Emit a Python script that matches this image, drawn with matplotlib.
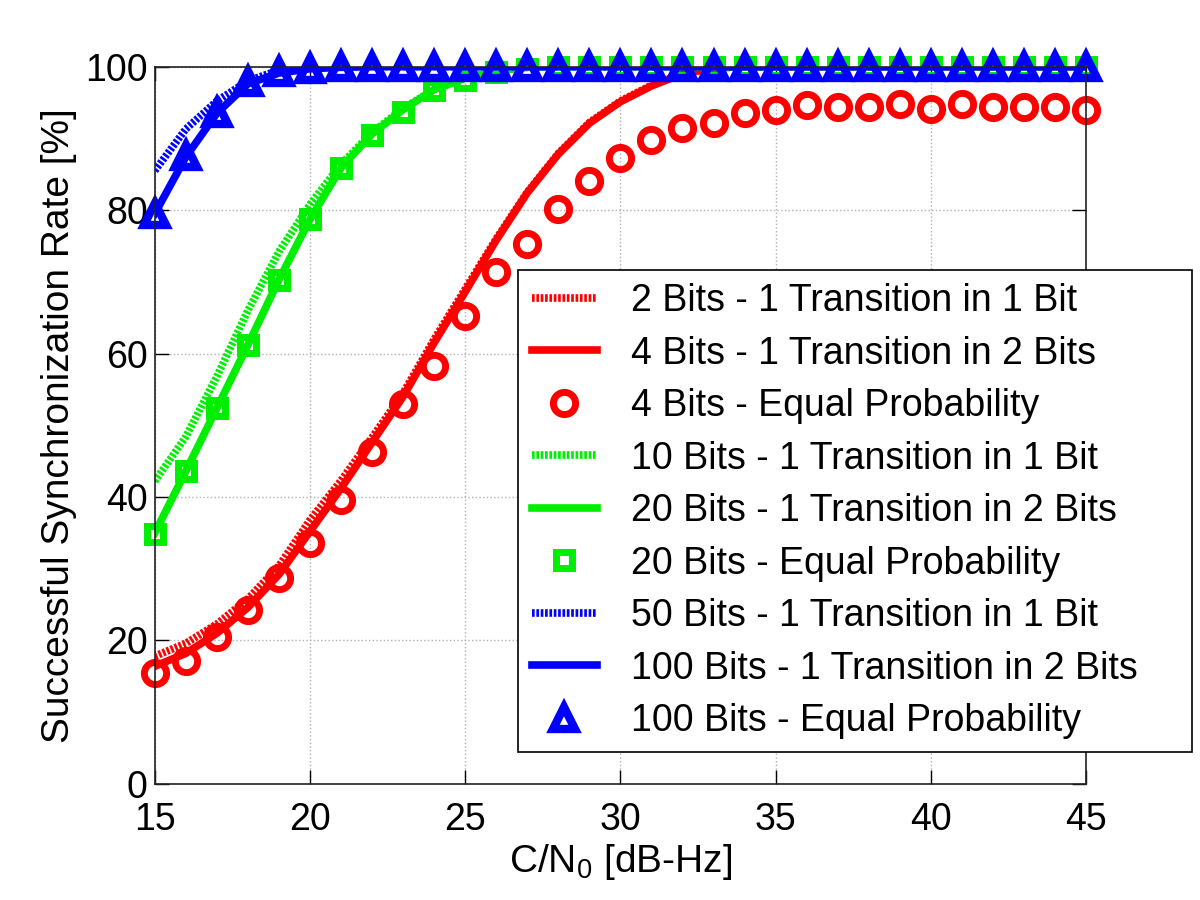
import numpy as np
import matplotlib
matplotlib.use("Agg")
import matplotlib.pyplot as plt

plt.rcParams['font.family'] = ['Liberation Sans', 'DejaVu Sans']
plt.rcParams['mathtext.default'] = 'regular'

# C/N0 axis
cn0 = [15, 16, 17, 18, 19, 20, 21, 22, 23, 24, 25, 26, 27, 28, 29, 30,
       31, 32, 33, 34, 35, 36, 37, 38, 39, 40, 41, 42, 43, 44, 45]

# red: 2 / 4 bits
red_2b_1in1 = [17.8, 19.6, 22.3, 25.8, 30.4, 36.8, 42.3, 48.3, 54.5, 62.0, 69.0, 76.0, 82.5, 87.9,
               92.2, 95.2, 97.4, 99.0, 99.8, 100, 100, 100, 100, 100, 100, 100, 100, 100, 100, 100, 100]
red_4b_1in2 = [16.4, 18.2, 21.0, 24.6, 29.2, 35.2, 41.2, 47.6, 54.0, 61.5, 68.6, 75.8, 82.4, 87.8,
               92.1, 95.1, 97.3, 99.0, 99.8, 100, 100, 100, 100, 100, 100, 100, 100, 100, 100, 100, 100]
red_4b_eq = [15.5, 17.2, 20.5, 24.3, 28.7, 33.6, 39.6, 46.3, 52.9, 58.2, 65.3, 71.4, 75.2, 80.1,
             84.0, 87.3, 89.8, 91.5, 92.1, 93.6, 94.0, 94.7, 94.4, 94.4, 94.8, 94.1, 94.8, 94.4,
             94.4, 94.4, 94.0]

# green: 10 / 20 bits
grn_10b_1in1 = [42.2, 48.4, 56.8, 66.0, 74.2, 80.8, 86.4, 90.8, 94.2, 96.8, 98.4, 99.4, 99.9, 100,
                100, 100, 100, 100, 100, 100, 100, 100, 100, 100, 100, 100, 100, 100, 100, 100, 100]
grn_20b_1in2 = [35.0, 43.6, 52.4, 61.2, 70.3, 78.7, 85.9, 90.6, 94.0, 96.8, 98.4, 99.4, 99.9, 100,
                100, 100, 100, 100, 100, 100, 100, 100, 100, 100, 100, 100, 100, 100, 100, 100, 100]
grn_20b_eq = [34.8, 43.6, 52.4, 61.2, 70.3, 78.7, 85.9, 90.4, 93.7, 96.8, 98.2, 99.3, 99.7, 99.9,
              100, 100, 100, 100, 100, 100, 100, 100, 100, 100, 100, 100, 100, 100, 100, 100, 100]

# blue: 50 / 100 bits
blu_50b_1in1 = [85.5, 91.3, 95.2, 98.0, 99.5, 99.9, 100, 100, 100, 100, 100, 100, 100, 100,
                100, 100, 100, 100, 100, 100, 100, 100, 100, 100, 100, 100, 100, 100, 100, 100, 100]
blu_100b_1in2 = [79.5, 87.4, 93.5, 97.6, 99.1, 99.7, 99.9, 100, 100, 100, 100, 100, 100, 100,
                 100, 100, 100, 100, 100, 100, 100, 100, 100, 100, 100, 100, 100, 100, 100, 100, 100]
blu_100b_eq = [79.4, 87.5, 93.6, 97.8, 99.2, 99.7, 99.9, 100, 100, 100, 100, 100, 100, 100,
               100, 100, 100, 100, 100, 100, 100, 100, 100, 100, 100, 100, 100, 100, 100, 100, 100]

labels = ["2 Bits - 1 Transition in 1 Bit",
          "4 Bits - 1 Transition in 2 Bits",
          "4 Bits - Equal Probability",
          "10 Bits - 1 Transition in 1 Bit",
          "20 Bits - 1 Transition in 2 Bits",
          "20 Bits - Equal Probability",
          "50 Bits - 1 Transition in 1 Bit",
          "100 Bits - 1 Transition in 2 Bits",
          "100 Bits - Equal Probability"]

RED = '#ff0000'
GRN = '#00ee00'
BLU = '#0000ff'
lw = 5.5
dots = (0, (0.35, 0.22))

fig = plt.figure(figsize=(12, 9), dpi=100)
ax = fig.add_axes([0.129, 0.129, 0.776, 0.797])

groups = [(RED, red_2b_1in1, red_4b_1in2, red_4b_eq, 'o', 16, 5),
          (GRN, grn_10b_1in1, grn_20b_1in2, grn_20b_eq, 's', 11.5, 5),
          (BLU, blu_50b_1in1, blu_100b_1in2, blu_100b_eq, '^', 16, 6)]
handles = []
for col, dotted, solid, eq, mk, ms, mew in groups:
    h1, = ax.plot(cn0, dotted, color=col, lw=lw, ls=dots)
    h2, = ax.plot(cn0, solid, color=col, lw=lw, ls='-')
    h3, = ax.plot(cn0, eq, ls='none', marker=mk, ms=ms, mew=mew, mec=col,
                  mfc='none', clip_on=False)
    handles += [h1, h2, h3]

ax.set_xlim(15, 45)
ax.set_ylim(0, 100)
ax.set_xticks([15, 20, 25, 30, 35, 40, 45])
ax.set_yticks([0, 20, 40, 60, 80, 100])
ax.grid(True, ls=':', color='#b0b0b0', lw=1)
ax.tick_params(direction='in', length=10, width=1, top=True, right=True,
               labelsize=27)
ax.tick_params(axis='x', pad=13)
ax.tick_params(axis='y', pad=5)
for s in ax.spines.values():
    s.set_linewidth(1.2)
    s.set_color('#222222')
ax.set_xlabel('C/N$_0$ [dB-Hz]', fontsize=28, labelpad=3)
ax.set_ylabel('Successful Synchronization Rate [%]', fontsize=28, labelpad=6)

leg = ax.legend(handles, labels, loc='upper left',
                bbox_to_anchor=(0.432, 0.161, 0.561, 0.539), mode='expand',
                bbox_transform=fig.transFigure, fontsize=27, frameon=True,
                fancybox=False, edgecolor='black', framealpha=1,
                handlelength=1.75, handletextpad=0.9, labelspacing=0.44,
                borderpad=0.35, borderaxespad=0)
leg.get_frame().set_linewidth(1.2)

fig.savefig('out.png', dpi=100)
